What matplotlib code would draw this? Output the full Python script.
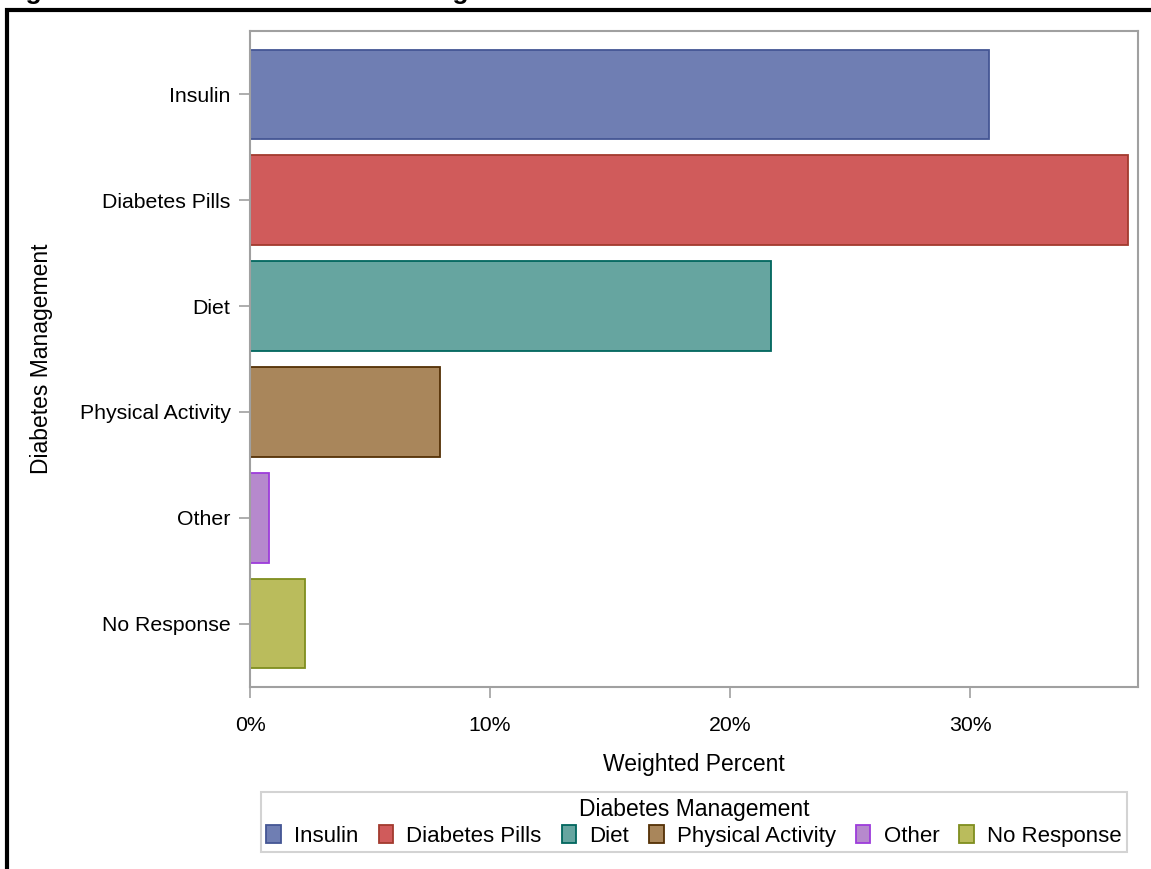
import matplotlib.pyplot as plt
from matplotlib.patches import Rectangle, Patch
from matplotlib.ticker import FuncFormatter

plt.rcParams['font.family'] = ['Liberation Sans', 'DejaVu Sans']

# Data
categories = ["Insulin", "Diabetes Pills", "Diet", "Physical Activity", "Other", "No Response"]
weighted_pct = [30.8, 36.6, 21.7, 7.9, 0.8, 2.3]
fill_colors = ["#6F7EB3", "#D05B5B", "#66A5A0", "#A9865B", "#B689CD", "#BABC5C"]
edge_colors = ["#445694", "#A23A2E", "#01665E", "#543005", "#9D3CDB", "#7F8E1F"]
x_ticks = [0, 10, 20, 30]

W, H = 1151, 869
fig = plt.figure(figsize=(W / 100, H / 100), dpi=100)

# axes placement in pixels
left, right, top, bottom = 250, 1138, 31, 687
ax = fig.add_axes([left / W, 1 - bottom / H, (right - left) / W, (bottom - top) / H])

ypos = list(range(len(categories)))
ax.barh(ypos, weighted_pct, height=0.85, color=fill_colors, edgecolor=edge_colors, linewidth=1.3)

ax.set_ylim(len(categories) - 0.4, -0.6)
ax.set_xlim(0, 37)
ax.set_yticks(ypos)
ax.set_yticklabels(categories)
ax.set_xticks(x_ticks)
ax.xaxis.set_major_formatter(FuncFormatter(lambda v, p: f"{v:.0f}%"))

for s in ax.spines.values():
    s.set_color("#A0A0A0")
    s.set_linewidth(1.5)
ax.tick_params(axis="both", colors="#A0A0A0", length=8, width=1.2, labelcolor="black",
               labelsize=15.3)
ax.tick_params(axis="x", pad=13)
ax.tick_params(axis="y", pad=6)

ax.set_xlabel("Weighted Percent", fontsize=16.5, labelpad=13)
fig.text(42 / W, 1 - 359 / H, "Diabetes Management", rotation=90, fontsize=16.5,
         ha="center", va="center")

# legend
handles = [Patch(facecolor=f, edgecolor=e, linewidth=1.3) for f, e in zip(fill_colors, edge_colors)]
leg = fig.legend(handles, categories, loc="upper center", bbox_to_anchor=(694 / W, 1 - 792 / H),
                 ncol=6, title="Diabetes Management", fontsize=16, title_fontsize=16.5,
                 frameon=True, fancybox=False, handlelength=0.65, handleheight=0.9,
                 handletextpad=0.6, columnspacing=0.9, borderpad=0.25, labelspacing=0.2,
                 borderaxespad=0)
leg.get_frame().set_edgecolor("#C8C8C8")
leg.get_frame().set_linewidth(1.5)

# outer black border (partly outside the picture)
fig.patches.append(Rectangle((6.5 / W, -0.1), 1.2, 1 - 10.5 / H + 0.1, transform=fig.transFigure,
                             fill=False, edgecolor="black", linewidth=3))

# title, cut off at the top edge
fig.text(2 / W, 1 + 0.5 / H, "Figure 3. Methods of Diabetes Management", fontsize=19,
         fontweight="bold", ha="left", va="baseline")

fig.savefig("out.png", dpi=100)
